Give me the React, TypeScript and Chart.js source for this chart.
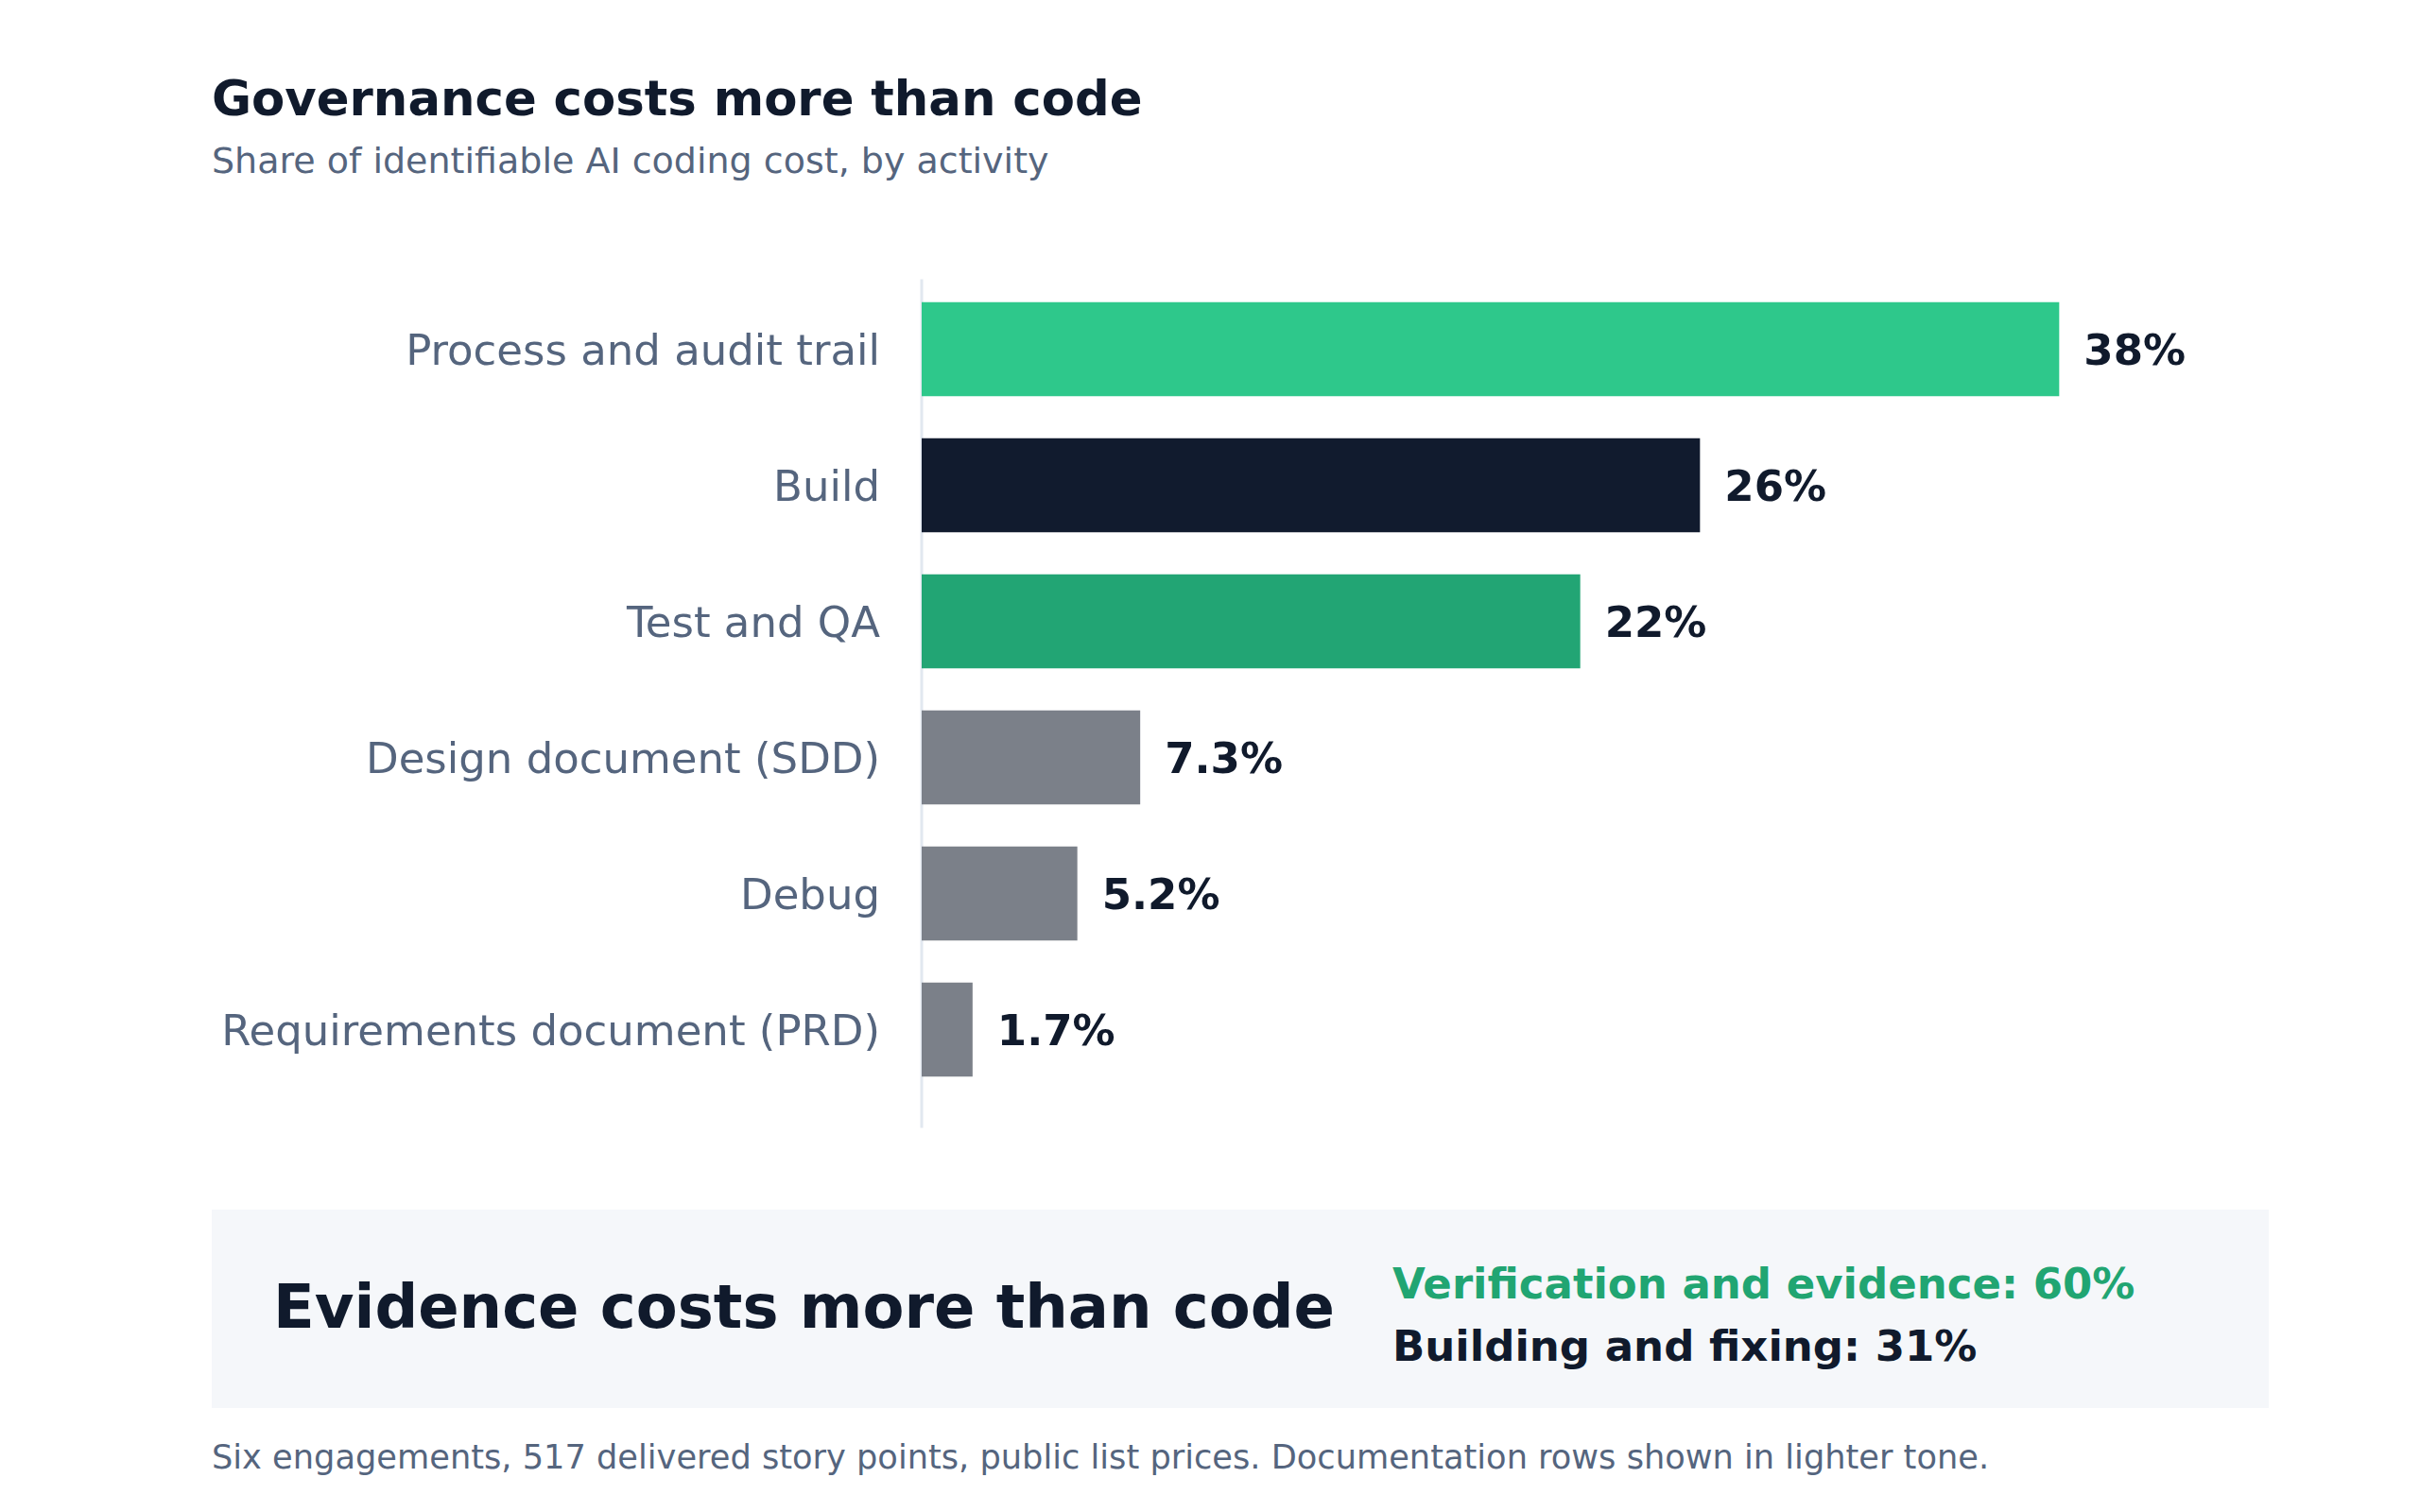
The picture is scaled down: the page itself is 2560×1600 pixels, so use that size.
import { useEffect, useRef } from 'react';
import { Chart, registerables } from 'chart.js';

Chart.register(...registerables);

// data
const categories = [
  'Process and audit trail',
  'Build',
  'Test and QA',
  'Design document (SDD)',
  'Debug',
  'Requirements document (PRD)',
];
const shares = [38, 26, 22, 7.3, 5.2, 1.7];
const verificationShare = 60;
const buildingShare = 31;
const xMax = 45;

// styles
const barColors = ['#2ec88b', '#111b2e', '#22a574', '#7b8089', '#7b8089', '#7b8089'];
const FONT = '"DejaVu Sans", sans-serif';
const INK = '#101a2c';
const SLATE = '#55657e';
const GREEN = '#21a572';

const axisLine = {
  id: 'axisLine',
  beforeDatasetsDraw(chart) {
    const { ctx, chartArea } = chart;
    ctx.save();
    ctx.strokeStyle = '#e2e8f0';
    ctx.lineWidth = 3;
    ctx.beginPath();
    ctx.moveTo(chartArea.left, chartArea.top - 2);
    ctx.lineTo(chartArea.left, chartArea.bottom + 32);
    ctx.stroke();
    ctx.restore();
  },
};

const valueLabels = {
  id: 'valueLabels',
  afterDatasetsDraw(chart) {
    const { ctx } = chart;
    const meta = chart.getDatasetMeta(0);
    ctx.save();
    ctx.font = `bold 45px ${FONT}`;
    ctx.fillStyle = INK;
    ctx.textAlign = 'left';
    ctx.textBaseline = 'middle';
    meta.data.forEach((bar, i) => {
      ctx.fillText(`${shares[i]}%`, bar.x + 26, bar.y + 5);
    });
    ctx.restore();
  },
};

function ShareChart() {
  const canvasRef = useRef(null);

  useEffect(() => {
    if (!canvasRef.current) return;
    const chart = new Chart(canvasRef.current.getContext('2d'), {
      type: 'bar',
      data: {
        labels: categories,
        datasets: [
          {
            data: shares,
            backgroundColor: barColors,
            borderWidth: 0,
            categoryPercentage: 1,
            barPercentage: 0.69,
          },
        ],
      },
      options: {
        indexAxis: 'y',
        animation: false,
        responsive: true,
        maintainAspectRatio: false,
        layout: { padding: { top: 37.5, bottom: 38.5, left: 0, right: 0 } },
        plugins: {
          legend: { display: false },
          tooltip: { enabled: false },
          title: { display: false },
        },
        scales: {
          x: { display: false, min: 0, max: xMax },
          y: {
            afterFit(scale) {
              scale.width = 751;
              scale.paddingTop = 0;
              scale.paddingBottom = 0;
            },
            grid: { display: false, drawTicks: false, tickLength: 0 },
            border: { display: false },
            ticks: {
              color: SLATE,
              padding: 44,
              labelOffset: 5,
              font: { family: FONT, size: 45 },
            },
          },
        },
      },
      plugins: [axisLine, valueLabels],
    });
    return () => chart.destroy();
  }, []);

  return <canvas ref={canvasRef}></canvas>;
}

export default function App() {
  const abs = (left, top, extra = {}) => ({
    position: 'absolute',
    left,
    top,
    whiteSpace: 'nowrap',
    fontFamily: FONT,
    lineHeight: 1,
    ...extra,
  });

  return (
    <div style={{ position: 'absolute', left: 0, top: 0, width: 2560, height: 1600, background: '#ffffff', overflow: 'hidden' }}>
      <div style={abs(224, 78.6, { fontSize: 51.3, fontWeight: 'bold', color: INK })}>
        Governance costs more than code
      </div>
      <div style={abs(224, 151, { fontSize: 38, color: SLATE })}>
        Share of identifiable AI coding cost, by activity
      </div>

      <div style={{ position: 'absolute', left: 224, top: 260, width: 2176, height: 940 }}>
        <ShareChart />
      </div>

      <div style={{ position: 'absolute', left: 224, top: 1280, width: 2176, height: 210, background: '#f5f7fa' }} />
      <div style={abs(289, 1351, { fontSize: 64, fontWeight: 'bold', color: INK })}>
        Evidence costs more than code
      </div>
      <div style={abs(1473, 1335.6, { fontSize: 45, fontWeight: 'bold', color: GREEN })}>
        Verification and evidence: {verificationShare}%
      </div>
      <div style={abs(1473, 1402.2, { fontSize: 45, fontWeight: 'bold', color: INK })}>
        Building and fixing: {buildingShare}%
      </div>

      <div style={abs(224, 1524, { fontSize: 35.2, color: SLATE })}>
        Six engagements, 517 delivered story points, public list prices. Documentation rows shown in lighter tone.
      </div>
    </div>
  );
}
